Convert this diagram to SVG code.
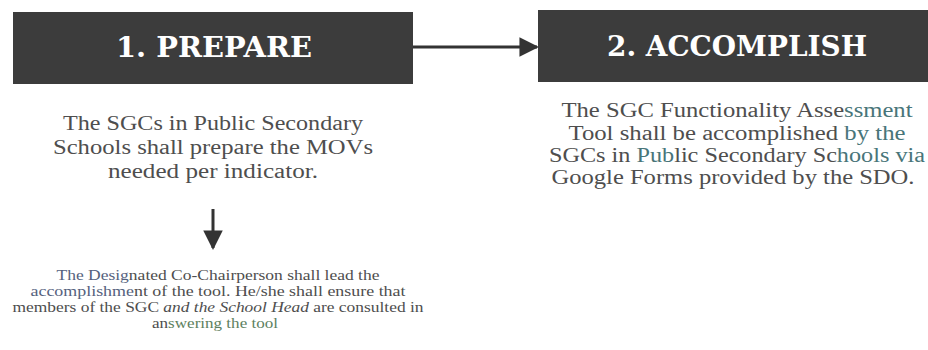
<svg xmlns="http://www.w3.org/2000/svg" width="928" height="350" viewBox="0 0 928 350">
<style>
.box{fill:#3c3c3c}
.title{font-family:"DejaVu Serif","Liberation Serif",serif;font-weight:bold;font-size:28px;fill:#ffffff;text-anchor:middle}
.body{font-family:"Liberation Serif","DejaVu Serif",serif;fill:#4e4e4e;text-anchor:middle}
.b1{font-size:20px}
.b3{font-size:15px}
.teal{fill:#487579}
.blue{fill:#55627e}
.green{fill:#5d7f60}
.conn{stroke:#333333;stroke-width:3;fill:none}
</style>
<defs>
<marker id="ah" viewBox="0 0 10 10" refX="9" refY="5" markerWidth="6.5" markerHeight="6.5" markerUnits="strokeWidth" orient="auto">
<path d="M0,0 L10,5 L0,10 z" fill="#333333"/>
</marker>
</defs>
<rect width="928" height="350" fill="#ffffff"/>
<g id="prepare">
<rect class="box" x="13" y="12" width="400" height="72"/>
<text class="title" x="214" y="57" textLength="196" lengthAdjust="spacingAndGlyphs">1. PREPARE</text>
</g>
<g id="accomplish">
<rect class="box" x="538" y="10" width="390" height="72"/>
<text class="title" x="737" y="56" textLength="260" lengthAdjust="spacingAndGlyphs">2. ACCOMPLISH</text>
</g>
<g id="prepare-text">
<text class="body b1" x="213" y="130" textLength="300" lengthAdjust="spacingAndGlyphs">The SGCs in Public Secondary</text>
<text class="body b1" x="213" y="154" textLength="320" lengthAdjust="spacingAndGlyphs">Schools shall prepare the MOVs</text>
<text class="body b1" x="213" y="178" textLength="210" lengthAdjust="spacingAndGlyphs">needed per indicator.</text>
</g>
<g id="accomplish-text">
<text class="body b1" x="737" y="117" textLength="351" lengthAdjust="spacingAndGlyphs">The SGC Functionality Asse<tspan class="teal">ssment</tspan></text>
<text class="body b1" x="737" y="140" textLength="337" lengthAdjust="spacingAndGlyphs">Tool shall be accomplished <tspan class="teal">by the</tspan></text>
<text class="body b1" x="737" y="162" textLength="376" lengthAdjust="spacingAndGlyphs">SGCs in <tspan class="teal">Pub</tspan>lic Secondary Sc<tspan class="teal">hools via</tspan></text>
<text class="body b1" x="733" y="184" textLength="363" lengthAdjust="spacingAndGlyphs">Google Forms provided by the SDO.</text>
</g>
<g id="lead-text">
<text class="body b3" x="218" y="280" textLength="323" lengthAdjust="spacingAndGlyphs"><tspan class="blue">The Desig</tspan>nated Co-Chairperson shall lead the</text>
<text class="body b3" x="218" y="296" textLength="375" lengthAdjust="spacingAndGlyphs"><tspan class="blue">accomplishme</tspan>nt of the tool. He/she shall ensure that</text>
<text class="body b3" x="218" y="312" textLength="411" lengthAdjust="spacingAndGlyphs">members of the SGC <tspan font-style="italic">and the School Head</tspan> are consulted in</text>
<text class="body b3" x="215" y="328" textLength="126" lengthAdjust="spacingAndGlyphs">an<tspan class="green">swering the tool</tspan></text>
</g>
<g id="connectors">
<line class="conn" x1="413" y1="47" x2="537" y2="47" marker-end="url(#ah)"/>
<line class="conn" x1="213" y1="209" x2="213" y2="248" stroke-width="2" marker-end="url(#ah)"/>
</g>
</svg>
